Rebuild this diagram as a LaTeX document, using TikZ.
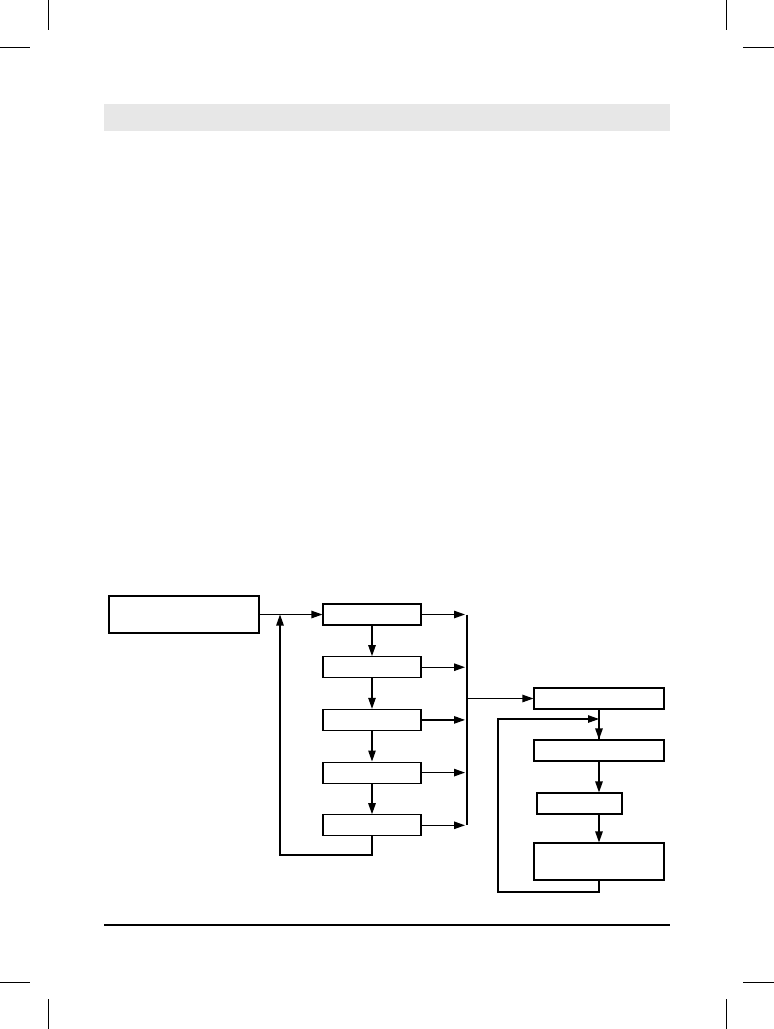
\documentclass[tikz,border=0pt]{standalone}
\usepackage{xcolor}
\definecolor{band}{RGB}{231,231,231}
\usepackage{tikz}
\usetikzlibrary{arrows.meta, positioning}
\tikzset{
  inbox/.style={draw=black, line width=1.2pt,
    minimum width=150pt, minimum height=37pt, inner sep=0pt},
  stagebox/.style={draw=black, line width=1.2pt,
    minimum width=98pt, minimum height=21pt, inner sep=0pt},
  outbox/.style={draw=black, line width=1.2pt,
    minimum width=130pt, minimum height=21pt, inner sep=0pt},
  flowarrow/.style={-{Triangle[length=11pt,width=7.5pt]}, line width=1.2pt, color=black},
  plainline/.style={line width=1.2pt, color=black},
  cropmark/.style={line width=0.8pt, color=black}
}

\begin{document}
\begin{tikzpicture}[x=1pt,y=-1pt]
    \useasboundingbox (0,0) rectangle (774,1029);
    % page furniture
    \fill[band] (104,104) rectangle (670,131);
    \draw[line width=1.3pt] (104,925) -- (670,925);
    \draw[cropmark] (48,0) -- (48,30) (0,47) -- (30,47)
                    (726,0) -- (726,30) (743,47) -- (774,47)
                    (0,982) -- (30,982) (743,982) -- (774,982)
                    (48,999) -- (48,1029) (726,999) -- (726,1029);

    % left column
    \node[inbox] (src) at (184,614.5) {};
    \node[stagebox] (s1) at (372,614.5) {};
    \node[stagebox, below=30.5pt of s1] (s2) {};
    \node[stagebox, below=30.5pt of s2] (s3) {};
    \node[stagebox, below=30.5pt of s3] (s4) {};
    \node[stagebox, below=30.5pt of s4] (s5) {};

    \coordinate (bustop) at (467,614.5);
    \coordinate (busmid) at (467,698.5);
    \coordinate (sback) at (280,855);

    % right column
    \node[outbox] (c1) at (599,698.5) {};
    \node[outbox, below=29.8pt of c1] (c2) {};
    \node[stagebox, minimum width=85pt, below=30.8pt of c2, xshift=-19.5pt] (c3) {};
    \node[outbox, minimum height=37pt, below=27.8pt of c3, xshift=19.5pt] (c4) {};

    \coordinate (cjoin) at (599,719);
    \coordinate (cback) at (498,892);

    \draw[flowarrow] (src.east) -- (s1.west);
    \foreach \a/\b in {s1/s2,s2/s3,s3/s4,s4/s5}
      \draw[flowarrow] (\a.south) -- (\b.north);
    \foreach \n in {s1,s2,s3,s4,s5}
      \draw[flowarrow, shorten >=2pt] (\n.east) -- (\n.east -| bustop);
    \draw[plainline] (bustop) -- (bustop |- s5.east);
    \draw[flowarrow] (s5.south) |- (sback) -- (sback |- src.east);

    \draw[flowarrow] (busmid) -- (c1.west);
    \draw[plainline] (c1.south) -- (c2.north);
    \draw[flowarrow] (cjoin) -- (c2.north);
    \draw[flowarrow] (c2.south) -- (c2.south |- c3.north);
    \draw[flowarrow] (c3.south -| c2.south) -- (c4.north);
    \draw[flowarrow] (c4.south) |- (cback) |- (cjoin);
\end{tikzpicture}
\end{document}
